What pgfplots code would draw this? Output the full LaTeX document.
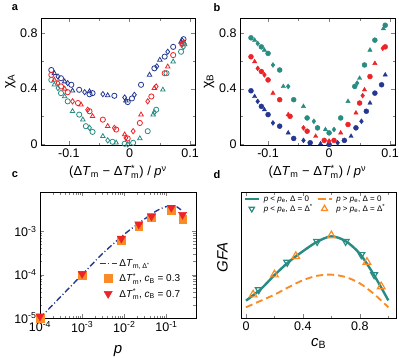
\documentclass[border=0pt]{standalone}
\usepackage{pgfplots}
\pgfplotsset{compat=1.18}
\usepackage{amsmath}
\usepackage{fontspec}
\setmainfont{Liberation Sans}

\definecolor{cnavy}{RGB}{36,56,145}
\definecolor{cred}{RGB}{236,36,40}
\definecolor{cteal}{RGB}{40,140,130}
\definecolor{corange}{RGB}{250,140,40}

\newcommand\ssb[2]{\ensuremath{^{\text{#2}}_{\text{#1}}}}

\pgfplotsset{
  panel/.style={
    scale only axis,
    anchor=south west,
    /pgf/number format/assume math mode=true,
    tick label style={font=\fontsize{12.5}{14}\selectfont},
    label style={font=\fontsize{13}{15}\selectfont},
    major tick length=4pt,
    minor tick length=2.5pt,
  },
  oa/.style={only marks, mark options={solid, fill=none, line width=0.8pt}, mark size=2.6pt},
  fb/.style={only marks, mark size=2.5pt},
}

\begin{document}
\begin{tikzpicture}
\useasboundingbox (0,0) rectangle (399pt,357pt);

% ---------------- panel a ----------------
\begin{axis}[panel, at={(41pt,212pt)}, width=154pt, height=127pt,
  xmin=-0.146, xmax=0.108, ymin=-0.004, ymax=0.907,
  xtick={-0.1,0,0.1}, minor xtick={-0.05,0.05},
  ytick={0,0.4,0.8}, minor ytick={0.2,0.6},
  xticklabels={-0.1,0,0.1}, yticklabels={0,0.4,0.8},
  xlabel={(Δ\textit{T}\textsubscript{m} − Δ\textit{T}\ssb{m}{*}) / \textit{p}\textsuperscript{ν}},
  xlabel style={at={(axis description cs:0.5,-0.21)}, anchor=center},
  ylabel={χ\textsubscript{A}},
  ylabel style={at={(axis description cs:-0.2,0.5)}, anchor=center, font=\fontsize{14}{16}\selectfont},
]
\addplot[oa, cnavy, mark=o] coordinates {(-0.129,0.534)(-0.113,0.475)(-0.096,0.428)(-0.083,0.392)(-0.061,0.368)(-0.025,0.349)(-0.003,0.304)(0.019,0.428)(0.041,0.546)(0.058,0.63)(0.072,0.70)(0.089,0.755)(0.004,0.33)(-0.066,0.36)};
\addplot[oa, cnavy, mark=triangle] coordinates {(-0.124,0.51)(-0.107,0.451)(-0.094,0.385)(-0.066,0.38)(-0.036,0.352)(-0.006,0.314)(0.033,0.499)(0.05,0.606)(0.085,0.736)};
\addplot[oa, cnavy, mark=diamond] coordinates {(-0.118,0.487)(-0.102,0.44)(-0.074,0.375)(-0.044,0.361)(-0.008,0.337)(0.008,0.356)(0.045,0.56)(0.063,0.665)(0.087,0.745)};
\addplot[oa, cred, mark=o] coordinates {(-0.129,0.499)(-0.113,0.416)(-0.102,0.375)(-0.085,0.297)(-0.066,0.238)(-0.044,0.178)(-0.022,0.107)(-0.003,0.043)(0.017,0.154)(0.036,0.344)(0.058,0.511)(0.072,0.641)(0.088,0.724)};
\addplot[oa, cred, mark=triangle] coordinates {(-0.124,0.463)(-0.107,0.399)(-0.08,0.285)(-0.061,0.202)(-0.036,0.131)(-0.008,0.071)(0.019,0.214)(0.041,0.404)(0.063,0.558)(0.09,0.73)};
\addplot[oa, cred, mark=diamond] coordinates {(-0.118,0.44)(-0.094,0.309)(-0.069,0.249)(-0.025,0.119)(-0.006,0.048)(0.006,0.095)(0.03,0.309)(0.044,0.416)(0.086,0.715)};
\addplot[oa, cteal, mark=o] coordinates {(-0.129,0.463)(-0.113,0.368)(-0.102,0.309)(-0.083,0.214)(-0.072,0.131)(-0.061,0.09)(-0.028,0.019)(-0.008,0.005)(0.006,0.012)(0.03,0.095)(0.044,0.249)(0.061,0.511)(0.085,0.665)};
\addplot[oa, cteal, mark=triangle] coordinates {(-0.124,0.428)(-0.107,0.344)(-0.094,0.238)(-0.077,0.178)(-0.044,0.059)(-0.022,0.012)(0.017,0.043)(0.039,0.214)(0.055,0.392)(0.072,0.594)(0.091,0.717)};
\addplot[oa, cteal, mark=diamond] coordinates {(-0.118,0.404)(-0.066,0.119)(-0.036,0.029)(-0.003,0.0)(0.041,0.23)(0.089,0.70)};
\end{axis}

% ---------------- panel b ----------------
\begin{axis}[panel, at={(240pt,212pt)}, width=155pt, height=127pt,
  xmin=-0.146, xmax=0.108, ymin=-0.004, ymax=0.907,
  xtick={-0.1,0,0.1}, minor xtick={-0.05,0.05},
  ytick={0,0.4,0.8}, minor ytick={0.2,0.6},
  xticklabels={-0.1,0,0.1}, yticklabels={0,0.4,0.8},
  xlabel={(Δ\textit{T}\textsubscript{m} − Δ\textit{T}\ssb{m}{*}) / \textit{p}\textsuperscript{ν}},
  xlabel style={at={(axis description cs:0.5,-0.21)}, anchor=center},
  ylabel={χ\textsubscript{B}},
  ylabel style={at={(axis description cs:-0.2,0.5)}, anchor=center, font=\fontsize{14}{16}\selectfont},
]
\addplot[fb, cnavy, mark=*] coordinates {(-0.128,0.385)(-0.111,0.273)(-0.1,0.214)(-0.081,0.131)(-0.058,0.043)(-0.031,0.012)(0,0)(0.025,0.029)(0.044,0.119)(0.061,0.238)(0.075,0.368)(0.086,0.428)};
\addplot[fb, cnavy, mark=triangle*] coordinates {(-0.122,0.344)(-0.106,0.249)(-0.067,0.083)(-0.014,0.005)(0.036,0.059)(0.067,0.297)(0.092,0.499)};
\addplot[fb, cnavy, mark=diamond*] coordinates {(-0.117,0.309)(-0.092,0.154)(-0.042,0.029)(0.014,0.012)(0.053,0.166)};
\addplot[fb, cred, mark=*] coordinates {(-0.128,0.629)(-0.111,0.523)(-0.1,0.463)(-0.081,0.321)(-0.064,0.202)(-0.036,0.095)(-0.008,0.029)(0.008,0.029)(0.031,0.143)(0.05,0.297)(0.067,0.487)(0.092,0.70)};
\addplot[fb, cred, mark=triangle*] coordinates {(-0.122,0.594)(-0.092,0.368)(-0.067,0.214)(-0.022,0.059)(0.019,0.083)(0.044,0.226)(0.058,0.392)(0.075,0.582)};
\addplot[fb, cred, mark=diamond*] coordinates {(-0.117,0.546)(-0.106,0.499)(-0.042,0.119)(0,0.024)(0.055,0.35)(0.088,0.69)};
\addplot[fb, cteal, mark=*] coordinates {(-0.128,0.765)(-0.111,0.70)(-0.1,0.653)(-0.081,0.534)(-0.058,0.321)(-0.036,0.19)(-0.019,0.119)(0,0.083)(0.019,0.19)(0.042,0.416)(0.058,0.57)(0.075,0.748)(0.092,0.855)};
\addplot[fb, cteal, mark=triangle*] coordinates {(-0.122,0.748)(-0.106,0.677)(-0.075,0.416)(-0.042,0.273)(-0.006,0.107)(0.031,0.309)(0.05,0.475)(0.067,0.677)(0.089,0.831)};
\addplot[fb, cteal, mark=diamond*] coordinates {(-0.117,0.724)(-0.092,0.57)(-0.067,0.416)(-0.025,0.166)(0.008,0.107)(0.046,0.44)};
\end{axis}

% ---------------- panel c ----------------
\begin{axis}[panel, at={(40pt,39pt)}, width=156pt, height=126pt,
  xmode=log, ymode=log,
  xmin=1e-4, xmax=0.5, ymin=1e-5, ymax=8e-3,
  xtick={1e-4,1e-3,1e-2,1e-1},
  xticklabels={10\textsuperscript{-4},10\textsuperscript{-3},10\textsuperscript{-2},10\textsuperscript{-1}},
  ytick={1e-5,1e-4,1e-3},
  yticklabels={10\textsuperscript{-5},10\textsuperscript{-4},10\textsuperscript{-3}},
  xlabel={\textit{p}},
  xlabel style={at={(axis description cs:0.5,-0.26)}, anchor=center, font=\fontsize{15}{17}\selectfont},
  legend style={at={(axis description cs:0.37,0.49)}, anchor=north west, draw=none, fill=none,
    font=\fontsize{10}{12}\selectfont, row sep=1.5pt, inner sep=1pt},
  legend cell align=left,
]
\addplot[cnavy, line width=1.4pt, dash pattern=on 6pt off 2.5pt on 1pt off 2.5pt, smooth] coordinates {
  (1e-4,1e-5)(1e-3,1e-4)(3e-3,3e-4)(1e-2,8.5e-4)(3e-2,1.9e-3)(6e-2,3e-3)(1e-1,3.7e-3)(1.4e-1,3.9e-3)(1.8e-1,3.6e-3)(2.2e-1,3.1e-3)};
\addlegendentry{Δ\textit{T}$_{\text{m, Δ}^{\text{*}}}$}
\addplot[only marks, mark=square*, mark size=3.8pt, color=corange] coordinates {
  (1e-4,1e-5)(1e-3,9.6e-5)(8.5e-3,6.2e-4)(2.2e-2,1.3e-3)(4.4e-2,2.1e-3)(1.3e-1,3.0e-3)(2.4e-1,1.9e-3)};
\addlegendentry{Δ\textit{T}\ssb{m}{*}, \textit{c}\textsubscript{B} = 0.3}
\addplot[only marks, mark=triangle*, mark options={rotate=180}, mark size=4.7pt, color=cred] coordinates {
  (1e-4,1.1e-5)(1e-3,1.05e-4)(8.5e-3,6.8e-4)(2.2e-2,1.45e-3)(4.4e-2,2.2e-3)(1.3e-1,3.5e-3)(2.4e-1,2.4e-3)};
\addlegendentry{Δ\textit{T}\ssb{m}{*}, \textit{c}\textsubscript{B} = 0.7}
\end{axis}

% ---------------- panel d ----------------
\begin{axis}[panel, at={(241pt,39pt)}, width=155pt, height=126pt,
  xmin=-0.035, xmax=1.054, ymin=0, ymax=1,
  xtick={0,0.4,0.8}, minor xtick={0.2,0.6,1.0},
  xticklabels={0,0.4,0.8},
  ytick=\empty,
  xlabel={\textit{c}\textsubscript{B}},
  xlabel style={at={(axis description cs:0.5,-0.2)}, anchor=center, font=\fontsize{15}{17}\selectfont},
  ylabel={\textit{GFA}},
  ylabel style={at={(axis description cs:-0.12,0.48)}, anchor=center, font=\fontsize{15}{17}\selectfont},
  legend style={at={(axis description cs:0.01,0.99)}, anchor=north west, draw=none, fill=none,
    font=\fontsize{8}{9.5}\selectfont, column sep=3pt, inner sep=1pt,
    nodes={inner sep=1pt}},
  legend columns=2, legend cell align=left,
  legend image post style={scale=0.8},
]
\addplot[cteal, line width=2.4pt, smooth] coordinates {
  (0,0.138)(0.1,0.225)(0.2,0.34)(0.3,0.445)(0.4,0.53)(0.5,0.605)(0.6,0.648)(0.7,0.61)(0.8,0.51)(0.9,0.34)(1.0,0.14)};
\addlegendentry{\textit{p} < \textit{p}\textsubscript{e}, Δ = 0}
\addplot[corange, line width=1.9pt, dash pattern=on 7pt off 4pt, smooth] coordinates {
  (0,0.085)(0.1,0.135)(0.2,0.185)(0.3,0.245)(0.4,0.30)(0.5,0.335)(0.6,0.344)(0.7,0.325)(0.8,0.275)(0.9,0.19)(1.0,0.085)};
\addlegendentry{\textit{p} > \textit{p}\textsubscript{e}, Δ = 0}
\addplot[only marks, cteal, mark=triangle, mark options={rotate=180, line width=1.2pt}, mark size=4pt] coordinates {
  (0.09,0.225)(0.29,0.442)(0.5,0.608)(0.7,0.608)(0.81,0.503)(0.9,0.344)};
\addlegendentry{\textit{p} < \textit{p}\textsubscript{e}, Δ = Δ\textsuperscript{*}}
\addplot[only marks, corange, mark=triangle, mark options={line width=1.2pt}, mark size=4.4pt] coordinates {
  (0.05,0.185)(0.2,0.344)(0.35,0.49)(0.6,0.655)(0.85,0.444)(0.95,0.25)};
\addlegendentry{\textit{p} > \textit{p}\textsubscript{e}, Δ = Δ\textsuperscript{*}}
\end{axis}

\node[font=\bfseries\fontsize{11}{13}\selectfont] at (15pt,349pt) {a};
\node[font=\bfseries\fontsize{11}{13}\selectfont] at (217pt,349pt) {b};
\node[font=\bfseries\fontsize{11}{13}\selectfont] at (15pt,182pt) {c};
\node[font=\bfseries\fontsize{11}{13}\selectfont] at (217pt,182pt) {d};
\end{tikzpicture}
\end{document}
